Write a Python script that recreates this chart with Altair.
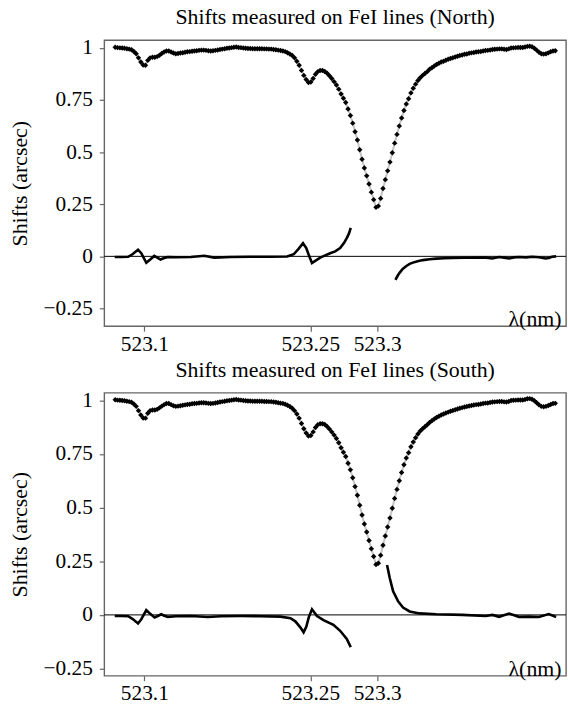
import altair as alt
import pandas as pd

# ---------------- data ----------------
# Normalised FeI line profile (same spectrum drawn in both panels),
# sampled every 0.002 nm starting at 523.075 nm
lam_start = 523.075
lam_step = 0.002
profile = [
    1.003, 1.001, 1.000, 0.999, 0.998, 0.996, 0.994, 0.991, 0.983, 0.972,
    0.952, 0.932, 0.918, 0.917, 0.940, 0.952, 0.955, 0.955, 0.958, 0.965,
    0.973, 0.980, 0.985, 0.985, 0.980, 0.975, 0.972, 0.973, 0.975, 0.977,
    0.979, 0.981, 0.982, 0.984, 0.985, 0.986, 0.988, 0.989, 0.989, 0.988,
    0.986, 0.985, 0.986, 0.988, 0.990, 0.992, 0.994, 0.996, 0.998, 0.999,
    1.001, 1.003, 1.004, 1.002, 1.001, 0.999, 0.998, 0.997, 0.997, 0.996,
    0.996, 0.996, 0.996, 0.996, 0.995, 0.995, 0.994, 0.994, 0.992, 0.991,
    0.989, 0.987, 0.985, 0.982, 0.977, 0.971, 0.963, 0.952, 0.936, 0.917,
    0.892, 0.868, 0.848, 0.834, 0.836, 0.853, 0.873, 0.886, 0.891, 0.891,
    0.887, 0.878, 0.866, 0.853, 0.838, 0.822, 0.802, 0.779, 0.758, 0.738,
    0.707, 0.676, 0.639, 0.598, 0.558, 0.511, 0.466, 0.424, 0.386, 0.347,
    0.308, 0.272, 0.235, 0.241, 0.278, 0.325, 0.368, 0.410, 0.452, 0.497,
    0.543, 0.585, 0.625, 0.664, 0.700, 0.731, 0.756, 0.784, 0.806, 0.826,
    0.843, 0.857, 0.868, 0.877, 0.886, 0.897, 0.905, 0.913, 0.920, 0.926,
    0.932, 0.936, 0.941, 0.945, 0.949, 0.953, 0.956, 0.960, 0.963, 0.966,
    0.969, 0.971, 0.974, 0.976, 0.978, 0.980, 0.981, 0.983, 0.985, 0.987,
    0.988, 0.990, 0.992, 0.993, 0.994, 0.995, 0.995, 0.993, 0.992, 0.995,
    0.999, 1.000, 1.001, 1.002, 1.002, 1.002, 1.004, 1.007, 1.008, 1.005,
    0.998, 0.989, 0.979, 0.972, 0.970, 0.972, 0.976, 0.981, 0.985, 0.986,
]
lam_profile = [round(lam_start + lam_step * i, 4) for i in range(len(profile))]

# North shifts (arcsec), two segments
north_a_lam = [523.0746, 523.0804, 523.0861, 523.0898, 523.0946, 523.0974, 523.1017,
               523.1051, 523.1085, 523.1111, 523.1139, 523.1171, 523.1202, 523.1273,
               523.1401, 523.1515, 523.1600, 523.1743, 523.1913, 523.2084, 523.2227,
               523.2283, 523.2323, 523.2363, 523.2391, 523.2417, 523.2440, 523.2468,
               523.2511, 523.2554, 523.2596, 523.2639, 523.2682, 523.2716, 523.2741,
               523.2758, 523.2773]
north_a_val = [-0.003, -0.003, -0.002, 0.010, 0.032, 0.015, -0.031,
               -0.015, 0.002, -0.006, -0.015, -0.008, -0.003, -0.004,
               -0.003, 0.003, -0.006, -0.003, -0.002, -0.002, -0.001,
               0.010, 0.035, 0.063, 0.040, 0.000, -0.032, -0.022,
               -0.006, 0.005, 0.015, 0.024, 0.040, 0.065, 0.090,
               0.110, 0.137]
north_b_lam = [523.3157, 523.3177, 523.3194, 523.3219, 523.3251, 523.3279, 523.3307,
               523.3347, 523.3393, 523.3450, 523.3507, 523.3578, 523.3649, 523.3749,
               523.3877, 523.3936, 523.3988, 523.4047, 523.4090, 523.4133, 523.4175,
               523.4218, 523.4278, 523.4332, 523.4389, 523.4446, 523.4474, 523.4502,
               523.4537]
north_b_val = [-0.113, -0.092, -0.078, -0.060, -0.046, -0.036, -0.030,
               -0.023, -0.018, -0.014, -0.011, -0.009, -0.008, -0.007,
               -0.006, -0.006, -0.010, -0.003, -0.006, -0.010, -0.005,
               -0.003, -0.005, -0.002, -0.004, -0.010, -0.008, -0.002,
               0.000]

# South shifts (arcsec), two segments
south_a_lam = [523.0746, 523.0804, 523.0861, 523.0898, 523.0946, 523.0974, 523.1017,
               523.1051, 523.1088, 523.1120, 523.1145, 523.1171, 523.1202, 523.1273,
               523.1401, 523.1544, 523.1657, 523.1828, 523.1999, 523.2169, 523.2255,
               523.2297, 523.2340, 523.2368, 523.2391, 523.2413, 523.2440, 523.2483,
               523.2539, 523.2624, 523.2682, 523.2739, 523.2773]
south_a_val = [-0.005, -0.005, -0.006, -0.018, -0.040, -0.020, 0.022,
               0.005, -0.012, -0.004, 0.003, -0.004, -0.009, -0.006,
               -0.005, -0.010, -0.006, -0.005, -0.006, -0.008, -0.015,
               -0.030, -0.058, -0.081, -0.055, -0.010, 0.026, -0.005,
               -0.024, -0.046, -0.074, -0.112, -0.150]
south_b_lam = [523.3085, 523.3108, 523.3137, 523.3179, 523.3222, 523.3279, 523.3364,
               523.3507, 523.3732, 523.3934, 523.3990, 523.4047, 523.4133, 523.4218,
               523.4303, 523.4389, 523.4474, 523.4537]
south_b_val = [0.233, 0.172, 0.110, 0.064, 0.034, 0.016, 0.007,
               0.003, 0.000, -0.005, 0.000, -0.009, 0.006, -0.009,
               -0.008, -0.010, 0.004, -0.010]

x_tick_values = [523.1, 523.2426, 523.3]
x_tick_labels = ["523.1", "523.25", "523.3"]
y_tick_values = [-0.25, 0, 0.25, 0.5, 0.75, 1]
y_tick_labels = ["\u22120.25", "0", "0.25", "0.5", "0.75", "1"]

titles = ["Shifts measured on FeI lines (North)", "Shifts measured on FeI lines (South)"]
y_title = "Shifts (arcsec)"
x_label = "\u03bb(nm)"

# ---------------- chart ----------------
FONT = "Liberation Serif"
W = 465
X_DOMAIN = [523.0656, 523.4622]


def label_expr(values, labels):
    expr = f"'{labels[-1]}'"
    for v, lab in reversed(list(zip(values[:-1], labels[:-1]))):
        expr = f"abs(datum.value - ({v})) < 0.0001 ? '{lab}' : " + expr
    return expr


profile_df = pd.DataFrame({"lam": lam_profile, "val": profile})


def panel(title, seg_a, seg_b, y_domain, height):
    shifts_df = pd.DataFrame({
        "lam": list(seg_a[0]) + list(seg_b[0]),
        "val": list(seg_a[1]) + list(seg_b[1]),
        "seg": ["a"] * len(seg_a[0]) + ["b"] * len(seg_b[0]),
    })
    xs = alt.Scale(domain=X_DOMAIN, nice=False, zero=False)
    ys = alt.Scale(domain=y_domain, nice=False, zero=False)
    x_axis = alt.Axis(values=x_tick_values, labelExpr=label_expr(x_tick_values, x_tick_labels),
                      title=None, grid=False, domain=False, tickSize=5, labelPadding=2)
    y_axis = alt.Axis(values=y_tick_values, labelExpr=label_expr(y_tick_values, y_tick_labels),
                      title=y_title, grid=False, domain=False, tickSize=5, labelPadding=7,
                      titlePadding=12)
    X = alt.X("lam:Q", scale=xs, axis=x_axis)
    Y = alt.Y("val:Q", scale=ys, axis=y_axis)

    zero = alt.Chart(pd.DataFrame({"val": [0.0]})).mark_rule(
        color="black", strokeWidth=1).encode(y=alt.Y("val:Q", scale=ys, axis=y_axis))
    prof_line = alt.Chart(profile_df).mark_line(
        color="#c4c4c4", strokeWidth=2).encode(x=X, y=Y)
    prof_pts = alt.Chart(profile_df).mark_point(
        shape="diamond", filled=True, color="black", opacity=1, size=30).encode(x=X, y=Y)
    shift_lines = alt.Chart(shifts_df).mark_line(
        color="black", strokeWidth=2.6).encode(x=X, y=Y, detail="seg:N")
    lab = alt.Chart(pd.DataFrame({"t": [x_label]})).mark_text(
        font=FONT, fontSize=22, align="right", baseline="alphabetic", color="black"
    ).encode(x=alt.value(W - 4.5), y=alt.value(height), text="t:N")

    return alt.layer(zero, prof_line, prof_pts, shift_lines, lab).properties(
        width=W, height=height,
        title=alt.TitleParams(title, font=FONT, fontSize=22, fontWeight="normal",
                              color="black", offset=8, anchor="middle"),
    )


top = panel(titles[0], (north_a_lam, north_a_val), (north_b_lam, north_b_val),
            [-0.335, 1.0367], 288)
bottom = panel(titles[1], (south_a_lam, south_a_val), (south_b_lam, south_b_val),
               [-0.2835, 1.0355], 285)

chart = alt.vconcat(top, bottom, spacing=1).properties(
    padding={"left": 7, "top": 3, "right": 0, "bottom": 0}
).configure_view(
    stroke="#666666", strokeWidth=1.4
).configure_axis(
    labelFont=FONT, labelFontSize=21.5, labelColor="black",
    titleFont=FONT, titleFontSize=22, titleFontWeight="normal", titleColor="black",
    tickColor="#666666", tickWidth=1.2,
)

chart.save("out.html", embed_options={"renderer": "svg", "actions": False})
